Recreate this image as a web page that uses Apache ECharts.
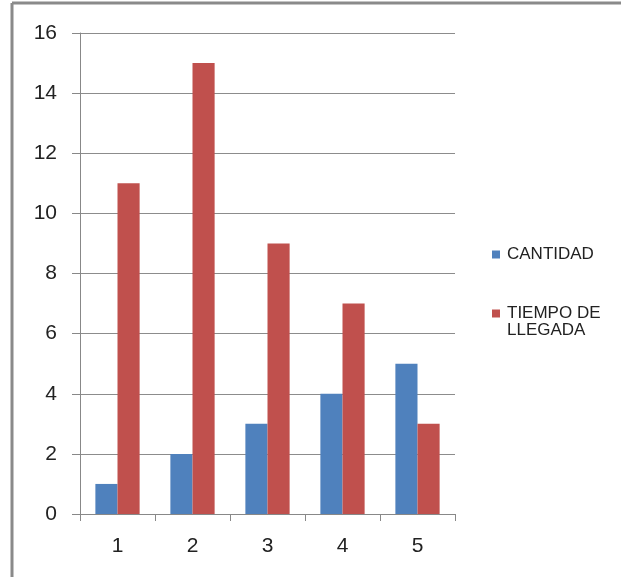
<!DOCTYPE html>
<html><head><meta charset="utf-8">
<script src="https://cdn.jsdelivr.net/npm/echarts@6/dist/echarts.min.js"></script>
<style>html,body{margin:0;padding:0;background:#fff}#c{width:621px;height:577px}</style>
</head><body><div id="c"></div>
<script>
const categories = ['1','2','3','4','5'];
const cantidad = [1,2,3,4,5];
const tiempo = [11,15,9,7,3];
const seriesNames = ['CANTIDAD','TIEMPO DE LLEGADA'];

const chart = echarts.init(document.getElementById('c'));
const font = 'Liberation Sans, Arial, sans-serif';
const legendBase = {
  orient:'vertical', itemWidth:8, itemHeight:8, icon:'rect',
  textStyle:{fontFamily:font,fontSize:17,color:'#222',padding:[0,0,0,2]}
};
chart.setOption({
  animation:false,
  backgroundColor:'#fff',
  graphic:[
    {type:'line',shape:{x1:12,y1:3,x2:621,y2:3},style:{stroke:'#8a8a8a',lineWidth:3}},
    {type:'line',shape:{x1:12,y1:3,x2:12,y2:577},style:{stroke:'#8a8a8a',lineWidth:3}},
    {type:'text',left:507,top:322,style:{text:'LLEGADA',font:'17px Liberation Sans, Arial, sans-serif',fill:'#222'}}
  ],
  grid:{left:80,right:166,top:33,bottom:63,containLabel:false},
  legend:[
    Object.assign({left:487, top:241, data:[seriesNames[0]]}, legendBase),
    Object.assign({left:487, top:300, data:[seriesNames[1]], formatter:()=> 'TIEMPO DE'}, legendBase)
  ],
  xAxis:{
    type:'category', data:categories,
    axisLine:{lineStyle:{color:'#888',width:1}},
    axisTick:{show:true,length:7,lineStyle:{color:'#888'}},
    axisLabel:{fontFamily:font,fontSize:21,color:'#222',margin:22}
  },
  yAxis:{
    type:'value', min:0, max:16, interval:2,
    axisLine:{show:true,lineStyle:{color:'#888'}},
    axisTick:{show:true,length:8,lineStyle:{color:'#888'}},
    splitLine:{lineStyle:{color:'#8c8c8c',width:1}},
    axisLabel:{fontFamily:font,fontSize:21,color:'#222',margin:23}
  },
  series:[
    {name:seriesNames[0],type:'bar',data:cantidad,itemStyle:{color:'#4F81BD'},barGap:'0%',barCategoryGap:'41%'},
    {name:seriesNames[1],type:'bar',data:tiempo,itemStyle:{color:'#C0504D'},barGap:'0%',barCategoryGap:'41%'}
  ]
});
</script></body></html>
